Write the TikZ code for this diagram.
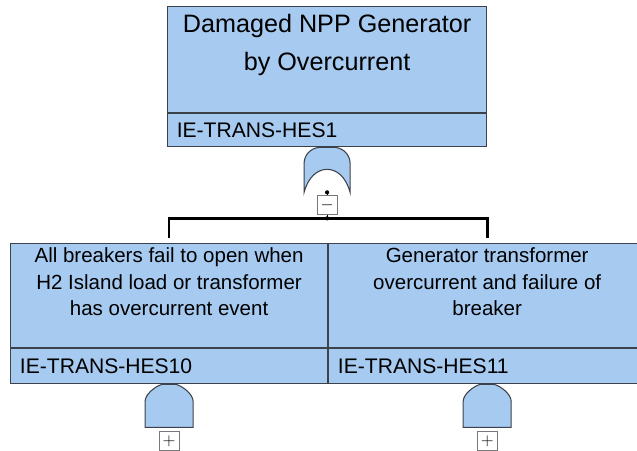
\documentclass[tikz,border=0pt]{standalone}
\usepackage{fontspec}
\setmainfont{Liberation Sans}
\usetikzlibrary{positioning}
\usetikzlibrary{calc}

\definecolor{evfill}{RGB}{166,202,240}
\definecolor{evline}{RGB}{60,66,74}
\definecolor{boxgray}{RGB}{120,120,120}

\tikzset{
  evbody/.style={draw=evline, fill=evfill, line width=1pt, inner sep=0pt, anchor=north west},
  evid/.style={draw=evline, fill=evfill, line width=1pt, inner sep=0pt, anchor=north west,
    align=left, font=\fontsize{18}{20}\selectfont},
  gateshape/.style={draw=evline, fill=evfill, line width=0.9pt},
  signbox/.style={draw=boxgray, fill=white, line width=0.6pt, minimum width=0.6cm, minimum height=0.57cm,
    inner sep=0pt, font=\fontsize{15}{15}\selectfont},
  feed/.style={line width=2.4pt, line cap=rect},
}

\begin{document}
\begin{tikzpicture}[x=0.03cm, y=-0.03cm]

\useasboundingbox (0,0) rectangle (637,451);

% top event
\node[evbody, minimum width=9.57cm, minimum height=3.18cm] (topbody) at (167,6) {};
\node[evid, minimum width=9.57cm, minimum height=0.99cm, text width=9.3cm] (topid) at (topbody.south west) {\hspace*{4pt}IE-TRANS-HES1};
\node[anchor=north, align=center, font=\fontsize{21.5}{32}\selectfont, inner sep=0pt] (toptitle)
  at ([yshift=-0.25cm]topbody.north) {Damaged NPP Generator\\by Overcurrent};

% gate under top event
\coordinate (g0) at (topid.south);
\draw[gateshape] ($(g0)+(-8,0)$) -- ($(g0)+(8,0)$)
  .. controls ($(g0)+(17,1)$) and ($(g0)+(23,8)$) .. ($(g0)+(23,16)$) -- ($(g0)+(23,45)$)
  .. controls ($(g0)+(19,30)$) and ($(g0)+(10,22)$) .. ($(g0)+(0,22)$)
  .. controls ($(g0)+(-10,22)$) and ($(g0)+(-19,30)$) .. ($(g0)+(-23,45)$)
  -- ($(g0)+(-23,16)$)
  .. controls ($(g0)+(-23,8)$) and ($(g0)+(-17,1)$) .. cycle;
\coordinate (g0out) at ($(g0)+(0,45)$);
\node[signbox] (minus) at ($(g0)+(0,58)$) {$-$};
\coordinate (bar) at ($(g0)+(0,71)$);
\fill (g0out) circle (1.8pt);
\fill (bar) circle (1.8pt);
\draw[line width=0.8pt] (g0out) -- (minus.north);
\draw[line width=0.8pt] (minus.south) -- (bar);

% children
\node[evbody, minimum width=9.51cm, minimum height=3.12cm] (leftbody) at (10,243) {};
\node[evid, minimum width=9.51cm, minimum height=1.05cm, text width=9.3cm] (leftid) at (leftbody.south west) {\hspace*{5pt}IE-TRANS-HES10};
\node[anchor=north, align=center, font=\fontsize{17.5}{22.6}\selectfont, inner sep=0pt] (lefttitle)
  at ([yshift=-0.14cm]leftbody.north) {All breakers fail to open when\\H2 Island load or transformer\\has overcurrent event};

% right box runs off the page
\node[evbody, minimum width=10.5cm, minimum height=3.12cm] (rightbody) at (leftbody.north east) {};
\node[evid, minimum width=10.5cm, minimum height=1.05cm, text width=10.3cm] (rightid) at (rightbody.south west) {\hspace*{5pt}IE-TRANS-HES11};
\coordinate (rmid) at ($(leftbody.north east)+(159,0)$);
\node[anchor=north, align=center, font=\fontsize{17.5}{22.6}\selectfont, inner sep=0pt] (righttitle)
  at ([yshift=-0.14cm]rmid) {Generator transformer\\overcurrent and failure of\\breaker};

% feeders
\draw[feed] ($(leftbody.north)+(0,-6)$) |- (bar) -| ($(rmid)+(0,-6)$);

% gates under children
\foreach \g in {leftbody, rmid}{
  \coordinate (gt) at ($(\g |- leftid.south)$);
  \draw[gateshape] ($(gt)+(-7,0)$) -- ($(gt)+(7,0)$)
    .. controls ($(gt)+(14,2)$) and ($(gt)+(24,10)$) .. ($(gt)+(24,17)$) -- ($(gt)+(24,43)$)
    -- ($(gt)+(-24,43)$) -- ($(gt)+(-24,17)$)
    .. controls ($(gt)+(-24,10)$) and ($(gt)+(-14,2)$) .. cycle;
  \node[signbox] (plus-\g) at ($(gt)+(0,56.5)$) {$+$};
}

\end{tikzpicture}
\end{document}
